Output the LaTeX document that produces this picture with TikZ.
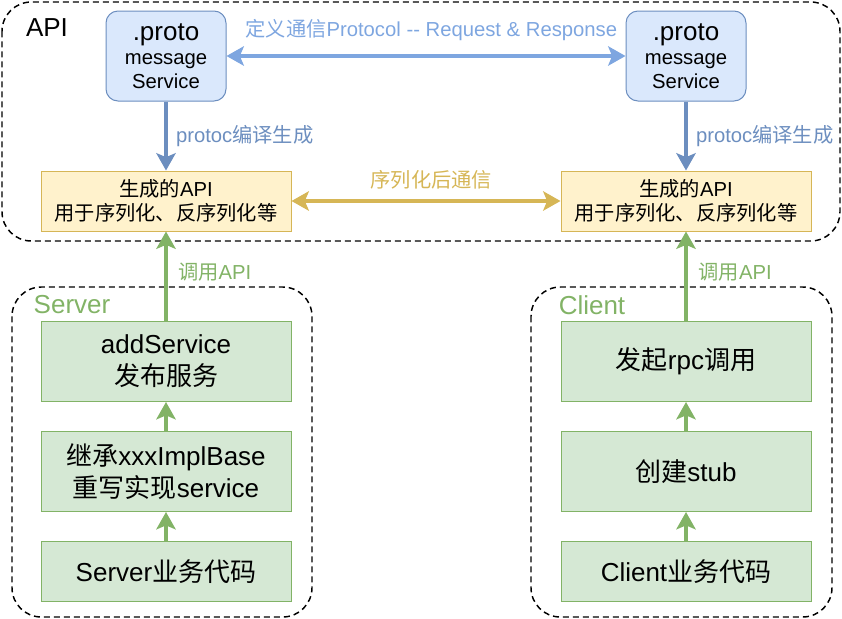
\documentclass[tikz,border=0pt]{standalone}
\usepackage{fontspec}
\setmainfont{Liberation Sans}
\newfontfamily\cjk{Noto Sans CJK SC}
\usetikzlibrary{arrows.meta}
\definecolor{protofill}{HTML}{DAE8FC}
\definecolor{protoline}{HTML}{6C8EBF}
\definecolor{defline}{HTML}{7EA6E0}
\definecolor{apifill}{HTML}{FFF2CC}
\definecolor{apiline}{HTML}{D6B656}
\definecolor{stepfill}{HTML}{D5E8D4}
\definecolor{stepline}{HTML}{82B366}
\newcommand{\zh}[1]{{\cjk #1}}
\newcommand{\bigf}{\fontsize{19.5}{24}\selectfont}
\newcommand{\smallf}{\fontsize{15.2}{18}\selectfont}

\begin{document}
\begin{tikzpicture}[x=0.75pt,y=-0.75pt,
    group/.style={draw,dash pattern=on 4.5pt off 3pt,line width=1.1pt,rounded corners=22pt},
    proto/.style={draw=protoline,fill=protofill,rounded corners=9pt,minimum width=90pt,minimum height=67.5pt,align=center,inner sep=0pt,font=\smallf,line width=0.75pt},
    api/.style={draw=apiline,fill=apifill,minimum width=187.5pt,minimum height=45pt,align=center,inner sep=0pt,font=\smallf,line width=0.75pt},
    stepbox/.style={draw=stepline,fill=stepfill,minimum width=187.5pt,minimum height=60pt,align=center,inner sep=0pt,font=\bigf,line width=0.75pt},
    arr/.style={line width=3pt,-{Stealth[length=13pt,width=14.5pt,inset=3pt]}},
    darr/.style={line width=3pt,{Stealth[length=13pt,width=14.5pt,inset=3pt]}-{Stealth[length=13pt,width=14.5pt,inset=3pt]}},
    lbl/.style={font=\smallf,inner sep=0pt}]
  \useasboundingbox (0,0) rectangle (842,618);
  \draw[group] (2,2) rectangle (840,241);
  \draw[group] (12,287) rectangle (312,617);
  \draw[group] (531,287) rectangle (832,617);
  \node[font=\bigf] (apititle) at (47,28) {API};
  \node[font=\bigf,text=stepline] (srvtitle) at (72,305) {Server};
  \node[font=\bigf,text=stepline] (clititle) at (592,305) {Client};

  \node[proto] (protoL) at (166,56) {{\bigf .proto}\\message\\Service};
  \node[proto] (protoR) at (686,56) {{\bigf .proto}\\message\\Service};
  \node[api] (apiL) at (166,201) {\zh{生成的}API\\\zh{用于序列化、反序列化等}};
  \node[api] (apiR) at (686,201) {\zh{生成的}API\\\zh{用于序列化、反序列化等}};

  \node[stepbox] (srvA) at (166,361.5) {addService\\\zh{发布服务}};
  \node[stepbox] (srvB) at (166,471.5) {\zh{继承}xxxImplBase\\\zh{重写实现}service};
  \node[stepbox,minimum height=45pt] (srvC) at (166,571.5) {Server\zh{业务代码}};
  \node[stepbox] (cliA) at (686,361.5) {\zh{发起}rpc\zh{调用}};
  \node[stepbox] (cliB) at (686,471.5) {\zh{创建}stub};
  \node[stepbox,minimum height=45pt] (cliC) at (686,571.5) {Client\zh{业务代码}};

  \draw[darr,defline] (protoL) -- (protoR) node[midway,above=10pt,xshift=4pt,lbl,text=defline] {\zh{定义通信}Protocol -{}- Request \& Response};
  \draw[arr,protoline] (protoL) -- (apiL) node[midway,right=6pt,lbl] {protoc\zh{编译生成}};
  \draw[arr,protoline] (protoR) -- (apiR) node[midway,right=6pt,lbl] {protoc\zh{编译生成}};
  \draw[darr,apiline] (apiL) -- (apiR) node[midway,above=7pt,xshift=4pt,lbl] {\zh{序列化后通信}};

  \draw[arr,stepline] (srvC) -- (srvB);
  \draw[arr,stepline] (srvB) -- (srvA);
  \draw[arr,stepline] (srvA) -- (apiL) node[midway,right=7.5pt,yshift=3pt,lbl] {\zh{调用}API};
  \draw[arr,stepline] (cliC) -- (cliB);
  \draw[arr,stepline] (cliB) -- (cliA);
  \draw[arr,stepline] (cliA) -- (apiR) node[midway,right=8pt,yshift=3pt,lbl] {\zh{调用}API};
\end{tikzpicture}
\end{document}
